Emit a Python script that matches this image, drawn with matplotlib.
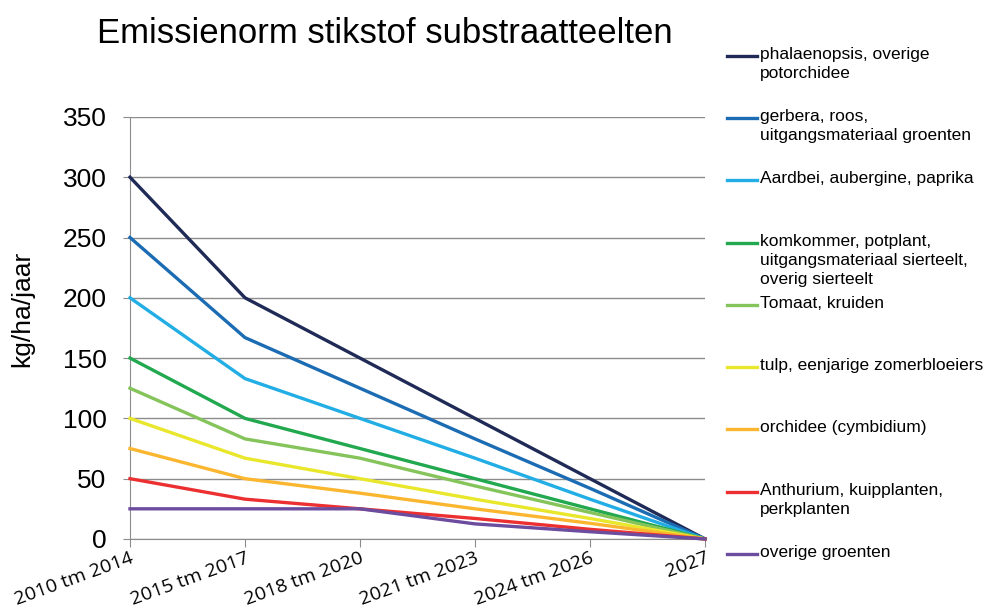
import matplotlib.pyplot as plt
from matplotlib.lines import Line2D

# emissienormen stikstof (kg/ha/jaar) per periode
periodes = ["2010 tm 2014", "2015 tm 2017", "2018 tm 2020",
            "2021 tm 2023", "2024 tm 2026", "2027"]

phalaenopsis = [300, 200, 150, 100, 50, 0]
gerbera = [250, 167, 125, 83, 42, 0]
aardbei = [200, 133, 100, 67, 33, 0]
komkommer = [150, 100, 75, 50, 25, 0]
tomaat = [125, 83, 67, 44, 22, 0]
tulp = [100, 67, 50, 33, 17, 0]
orchidee = [75, 50, 38, 25, 13, 0]
anthurium = [50, 33, 25, 17, 8, 0]
overige_groenten = [25, 25, 25, 12.5, 6, 0]

labels = [
    "phalaenopsis, overige\npotorchidee",
    "gerbera, roos,\nuitgangsmateriaal groenten",
    "Aardbei, aubergine, paprika",
    "komkommer, potplant,\nuitgangsmateriaal sierteelt,\noverig sierteelt",
    "Tomaat, kruiden",
    "tulp, eenjarige zomerbloeiers",
    "orchidee (cymbidium)",
    "Anthurium, kuipplanten,\nperkplanten",
    "overige groenten",
]
reeksen = [phalaenopsis, gerbera, aardbei, komkommer, tomaat,
           tulp, orchidee, anthurium, overige_groenten]
kleuren = ["#1f2a56", "#1b6cb3", "#22aee5", "#22a84f", "#84c45b",
           "#e9e72c", "#fbb630", "#ec2f30", "#6b4c9f"]

plt.rcParams['font.family'] = ['Liberation Sans', 'DejaVu Sans']

fig = plt.figure(figsize=(9.9, 6.09), dpi=100)
ax = fig.add_axes([0.1313, 0.115, 0.5808, 0.693])

x = list(range(len(periodes)))
for waarden, kleur in zip(reeksen, kleuren):
    ax.plot(x, waarden, color=kleur, lw=2.4, clip_on=False, zorder=3,
            solid_joinstyle='miter')

ax.set_xlim(0, len(periodes) - 1)
ax.set_ylim(0, 350)
ax.set_yticks(range(0, 351, 50))
ax.yaxis.grid(True, color="#8c8c8c", lw=1)
ax.set_axisbelow(True)

ax.set_xticks(x)
ax.set_xticklabels(periodes, rotation=20, ha='right', rotation_mode='anchor',
                   fontsize=14, family=['Open Sans', 'DejaVu Sans'])
for s in ['top', 'right']:
    ax.spines[s].set_visible(False)
for s in ['left', 'bottom']:
    ax.spines[s].set_color("#8c8c8c")
ax.tick_params(axis='y', length=5, color="#8c8c8c", labelsize=19, pad=12)
ax.tick_params(axis='x', length=6, color="#8c8c8c", pad=1)

ax.set_ylabel("kg/ha/jaar", fontsize=19)
ax.yaxis.set_label_coords(-0.166, 0.545)

fig.text(0.389, 0.945, "Emissienorm stikstof substraatteelten",
         fontsize=25, ha='center', va='center')

# legenda rechts naast de grafiek
W, H = 990, 609
for i, (label, kleur) in enumerate(zip(labels, kleuren)):
    y = 55.7 + i * 62.3
    fig.add_artist(Line2D([727 / W, 757 / W], [1 - y / H, 1 - y / H],
                          color=kleur, lw=2.4))
    fig.text(760 / W, 1 - (y - 9) / H, label, fontsize=12.5,
             ha='left', va='top', linespacing=1.37)

fig.savefig("out.png", dpi=100)
